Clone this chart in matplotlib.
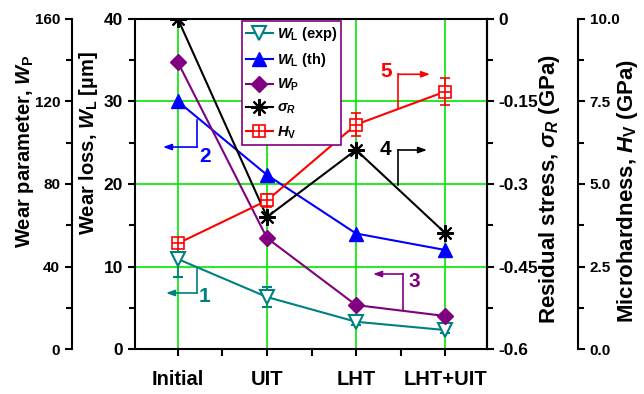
import numpy as np
import matplotlib
matplotlib.use('Agg')
import matplotlib.pyplot as plt
from matplotlib import font_manager
from matplotlib.ticker import MultipleLocator, FixedLocator, FormatStrFormatter

plt.rcParams['font.family'] = ['Liberation Sans', 'DejaVu Sans']
plt.rcParams['font.weight'] = 'bold'
plt.rcParams['mathtext.fontset'] = 'custom'
plt.rcParams['mathtext.rm'] = 'Liberation Sans:bold'
plt.rcParams['mathtext.it'] = 'Liberation Sans:italic:bold'
plt.rcParams['mathtext.bf'] = 'Liberation Sans:bold'

# narrow face for the condensed-looking texts, if we have it
installed = {f.name for f in font_manager.fontManager.ttflist}
if 'Liberation Sans Narrow' in installed:
    NARROW = ['Liberation Sans Narrow', 'Liberation Sans']
    narrow_lbl, narrow_tick = 16, 12.5
else:
    NARROW = ['Liberation Sans', 'DejaVu Sans']
    narrow_lbl, narrow_tick = 14.5, 11

categories = ['Initial', 'UIT', 'LHT', 'LHT+UIT']
wl_exp = [10.9, 6.3, 3.3, 2.3]
wl_exp_err = [2.2, 1.2, 0.4, 0.4]
wl_th = [30.0, 21.1, 14.0, 12.0]
wp = [139.0, 53.8, 21.3, 16.0]
sigma_r = [0.0, -0.36, -0.238, -0.389]
hv = [3.2, 4.5, 6.8, 7.8]
hv_err = [0.1, 0.2, 0.35, 0.4]

TEAL = '#008080'
BLUE = '#0000ff'
PURPLE = '#800080'
RED = '#ff0000'
GREEN = '#00e600'

x = np.arange(len(categories))

fig = plt.figure(figsize=(6.44, 3.94), dpi=100)
ax = fig.add_axes([0.2096, 0.1142, 0.5466, 0.8376])
axP = ax.twinx()
axS = ax.twinx()
axH = ax.twinx()


def style_ticks(a, side, size=12.5):
    a.tick_params(axis='y', which='both', direction='out', width=1.5,
                  labelsize=size, left=(side == 'left'), right=(side == 'right'),
                  labelleft=(side == 'left'), labelright=(side == 'right'))
    a.tick_params(axis='y', which='major', length=5)
    a.tick_params(axis='y', which='minor', length=4)


# main axis: wear loss
ax.set_xlim(-0.482, 3.47)
ax.set_ylim(0, 40)
ax.yaxis.set_major_locator(MultipleLocator(10))
ax.yaxis.set_minor_locator(MultipleLocator(5))
ax.set_xticks(x)
ax.set_xticklabels(categories, fontsize=14.5, fontweight='bold')
ax.xaxis.set_minor_locator(FixedLocator([0.5, 1.5, 2.5]))
ax.tick_params(axis='x', which='both', direction='out', width=1.5, length=5, pad=10)
style_ticks(ax, 'left')
ax.grid(True, which='major', color=GREEN, lw=1.2, zorder=0)
for s in ax.spines.values():
    s.set_linewidth(1.5)
ax.set_ylabel(r'Wear loss, $W_\mathrm{L}$ [µm]', fontsize=narrow_lbl,
              fontweight='bold', family=NARROW)
ax.yaxis.set_label_coords(-0.099, 0.623)

# wear parameter axis (outer left)
axP.set_ylim(0, 160)
axP.yaxis.set_major_locator(MultipleLocator(40))
axP.yaxis.set_minor_locator(MultipleLocator(20))
axP.spines['left'].set_visible(True)
axP.spines['left'].set_position(('axes', -0.179))
axP.spines['left'].set_linewidth(1.5)
for k in ['right', 'top', 'bottom']:
    axP.spines[k].set_visible(False)
axP.yaxis.set_ticks_position('left')
axP.yaxis.set_label_position('left')
style_ticks(axP, 'left', size=narrow_tick)
axP.set_ylabel(r'Wear parameter, $W_\mathrm{P}$', fontsize=narrow_lbl,
               fontweight='bold', family=NARROW)
axP.yaxis.set_label_coords(-0.282, 0.598)

# residual stress axis (right)
axS.set_ylim(-0.6, 0)
axS.yaxis.set_major_locator(FixedLocator([-0.6, -0.45, -0.3, -0.15, 0]))
axS.yaxis.set_minor_locator(FixedLocator([-0.525, -0.375, -0.225, -0.075]))
axS.set_yticklabels(['-0.6', '-0.45', '-0.3', '-0.15', '0'])
for k in ['left', 'top', 'bottom']:
    axS.spines[k].set_visible(False)
axS.spines['right'].set_linewidth(1.5)
style_ticks(axS, 'right')
axS.set_ylabel(r'Residual stress, $\sigma_R$ (GPa)', fontsize=16, fontweight='bold')
axS.yaxis.set_label_coords(1.142, 0.485)

# microhardness axis (outer right)
axH.set_ylim(0, 10)
axH.yaxis.set_major_locator(MultipleLocator(2.5))
axH.yaxis.set_minor_locator(MultipleLocator(1.25))
axH.yaxis.set_major_formatter(FormatStrFormatter('%.1f'))
for k in ['left', 'top', 'bottom']:
    axH.spines[k].set_visible(False)
axH.spines['right'].set_position(('axes', 1.2585))
axH.spines['right'].set_linewidth(1.5)
style_ticks(axH, 'right', size=narrow_tick)
axH.set_ylabel(r'Microhardness, $H_\mathrm{V}$ (GPa)', fontsize=16, fontweight='bold')
axH.yaxis.set_label_coords(1.364, 0.48)

for a, fam in ((ax, None), (axP, NARROW), (axS, None), (axH, NARROW)):
    for t in a.get_yticklabels():
        t.set_fontweight('bold')
        if fam:
            t.set_family(fam)

# data
h_exp = ax.errorbar(x, wl_exp, yerr=wl_exp_err, color=TEAL, lw=1.5, marker='v',
                    ms=10, mfc='white', mec=TEAL, mew=1.5, capsize=3.5,
                    elinewidth=1.2, capthick=1.2, zorder=5)
h_th, = ax.plot(x, wl_th, color=BLUE, lw=1.5, marker='^', ms=10, zorder=4)
h_wp, = axP.plot(x, wp, color=PURPLE, lw=1.5, marker='D', ms=8)
h_s, = axS.plot(x, sigma_r, color='black', lw=1.5, marker=(8, 2, 0), ms=12, mew=1.5)
axH.errorbar(x, hv, yerr=hv_err, color=RED, lw=1.5, fmt='none', capsize=3.5,
             elinewidth=1.2, capthick=1.2)
h_hv1, = axH.plot(x, hv, color=RED, lw=1.5, marker='s', ms=8, mfc='white', mec=RED, mew=1.2)
h_hv2, = axH.plot(x, hv, color=RED, lw=0, marker='+', ms=8, mew=1.2)

leg = axH.legend([h_exp.lines[0], h_th, h_wp, h_s, (h_hv1, h_hv2)],
                 [r'$W_\mathrm{L}$ (exp)', r'$W_\mathrm{L}$ (th)', r'$W_\mathrm{P}$',
                  r'$\sigma_R$', r'$H_\mathrm{V}$'],
                 loc='upper left', bbox_to_anchor=(0.304, 0.994), borderaxespad=0,
                 fancybox=False, framealpha=1, edgecolor=PURPLE,
                 handlelength=1.9, handletextpad=0.25, labelspacing=0.55,
                 borderpad=0.25, prop={'weight': 'bold', 'size': 10.5})
leg.get_frame().set_linewidth(1.2)

# numbered pointers (drawn in wear loss data coords)
pointers = [
    ('1', TEAL, (0.214, 9.94), (0.214, 6.79), (-0.134, 6.79), (0.304, 6.4)),
    ('2', BLUE, (0.214, 27.76), (0.214, 24.48), (-0.168, 24.48), (0.304, 23.3)),
    ('3', PURPLE, (2.528, 4.73), (2.528, 9.09), (2.191, 9.09), (2.651, 8.2)),
    ('4', 'black', (2.472, 19.88), (2.472, 24.12), (2.797, 24.12), (2.325, 24.2)),
    ('5', RED, (2.472, 29.2), (2.472, 33.3), (2.831, 33.3), (2.337, 33.6)),
]
for num, c, p0, p1, p2, pt in pointers:
    ax.plot([p0[0], p1[0]], [p0[1], p1[1]], color=c, lw=1.2, zorder=6)
    ax.annotate('', xy=p2, xytext=p1,
                arrowprops=dict(arrowstyle='-|>,head_length=0.5,head_width=0.18',
                                color=c, lw=1.2, shrinkA=0, shrinkB=0), zorder=6)
    ax.text(pt[0], pt[1], num, color=c, fontsize=15, fontweight='bold',
            ha='center', va='center', zorder=6)

fig.savefig('out.png', dpi=100)
